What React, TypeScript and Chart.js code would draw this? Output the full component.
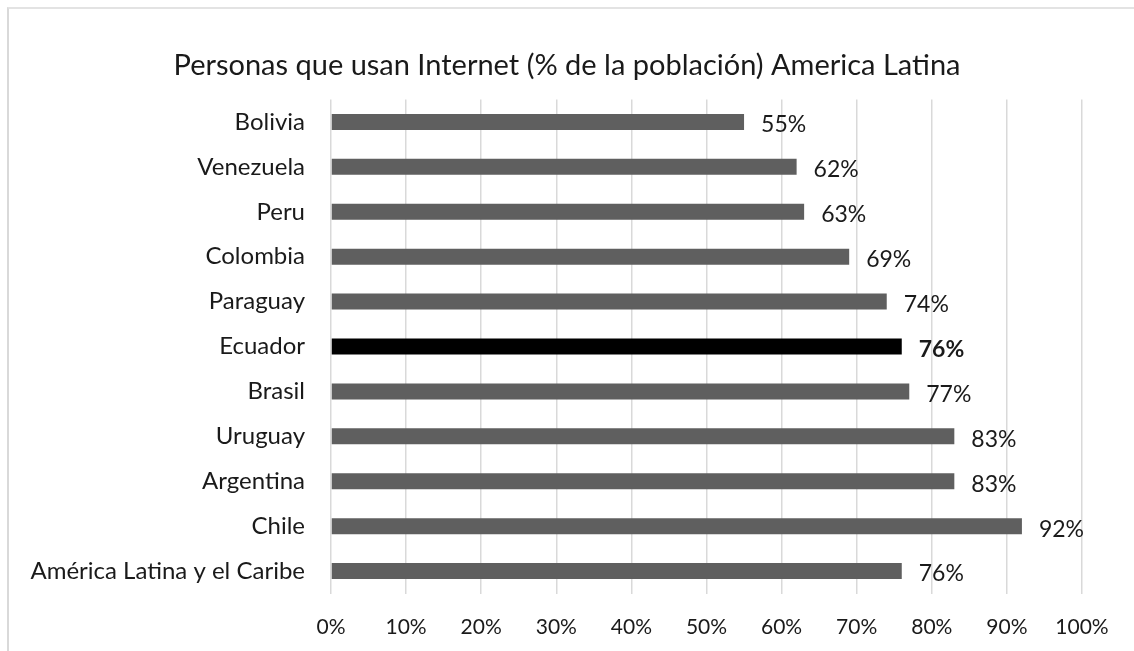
import React, { useEffect, useRef } from "react";
import { Chart, registerables } from "chart.js";

Chart.register(...registerables);

const TITLE = "Personas que usan Internet (% de la población) America Latina";
const categories = [
  "Bolivia",
  "Venezuela",
  "Peru",
  "Colombia",
  "Paraguay",
  "Ecuador",
  "Brasil",
  "Uruguay",
  "Argentina",
  "Chile",
  "América Latina y el Caribe",
];
const values = [55, 62, 63, 69, 74, 76, 77, 83, 83, 92, 76];
const highlight = "Ecuador";
const xTicks = [0, 10, 20, 30, 40, 50, 60, 70, 80, 90, 100];

const FONT = "Lato, 'Open Sans', sans-serif";
const TEXT = "#1a1a1a";
const BAR = "#5f5f5f";
const BAR_HI = "#000000";

const labelPlugin = {
  id: "valueLabels",
  afterDatasetsDraw(chart: any) {
    const ctx = chart.ctx;
    const meta = chart.getDatasetMeta(0);
    ctx.save();
    ctx.fillStyle = TEXT;
    ctx.textAlign = "left";
    ctx.textBaseline = "middle";
    meta.data.forEach((bar: any, i: number) => {
      const bold = categories[i] === highlight;
      ctx.font = `${bold ? "bold " : ""}23px ${FONT}`;
      ctx.fillText(values[i] + "%", bar.x + 17, bar.y + 3);
    });
    ctx.restore();
  },
};

const titlePlugin = {
  id: "centeredTitle",
  afterDraw(chart: any) {
    const ctx = chart.ctx;
    ctx.save();
    ctx.fillStyle = TEXT;
    ctx.textAlign = "center";
    ctx.textBaseline = "middle";
    ctx.font = `29px ${FONT}`;
    ctx.fillText(TITLE, chart.width / 2, 66);
    ctx.restore();
  },
};

export default function App() {
  const ref = useRef<HTMLCanvasElement | null>(null);
  useEffect(() => {
    if (!ref.current) return;
    const chart = new Chart(ref.current, {
      type: "bar",
      data: {
        labels: categories,
        datasets: [
          {
            data: values,
            backgroundColor: categories.map((c) => (c === highlight ? BAR_HI : BAR)),
            barPercentage: 0.356,
            categoryPercentage: 1,
          },
        ],
      },
      options: {
        indexAxis: "y",
        responsive: false,
        animation: false,
        layout: { padding: { left: 0, right: 52, top: 99.5, bottom: 0 } },
        plugins: {
          legend: { display: false },
          tooltip: { enabled: false },
          title: { display: false },
        },
        scales: {
          x: {
            min: 0,
            max: 100,
            afterBuildTicks: (scale: any) => {
              scale.ticks = xTicks.map((v) => ({ value: v }));
            },
            afterFit: (scale: any) => {
              scale.height = 57.5;
            },
            ticks: {
              color: TEXT,
              font: { family: FONT, size: 21 },
              padding: 21,
              maxRotation: 0,
              callback: (v: any) => v + "%",
            },
            grid: { color: "#d9d9d9", lineWidth: 1.5, drawTicks: false },
            border: { display: false },
          },
          y: {
            afterFit: (scale: any) => {
              scale.width = 331;
            },
            ticks: {
              color: TEXT,
              font: { family: FONT, size: 24 },
              padding: 26,
            },
            grid: { display: false, drawTicks: false },
            border: { display: false },
          },
        },
      },
      plugins: [labelPlugin, titlePlugin],
    });
    return () => chart.destroy();
  }, []);

  return (
    <div style={{ position: "fixed", left: 0, top: 0, width: 1134, height: 651, background: "#fff", overflow: "hidden" }}>
      <div
        style={{
          position: "absolute",
          left: 7,
          top: 7,
          width: 1200,
          height: 700,
          borderLeft: "2px solid #d9d9d9",
          borderTop: "2px solid #e3e3e3",
        }}
      />
      <canvas ref={ref} width={1134} height={651} style={{ position: "absolute", left: 0, top: 0 }} />
    </div>
  );
}
